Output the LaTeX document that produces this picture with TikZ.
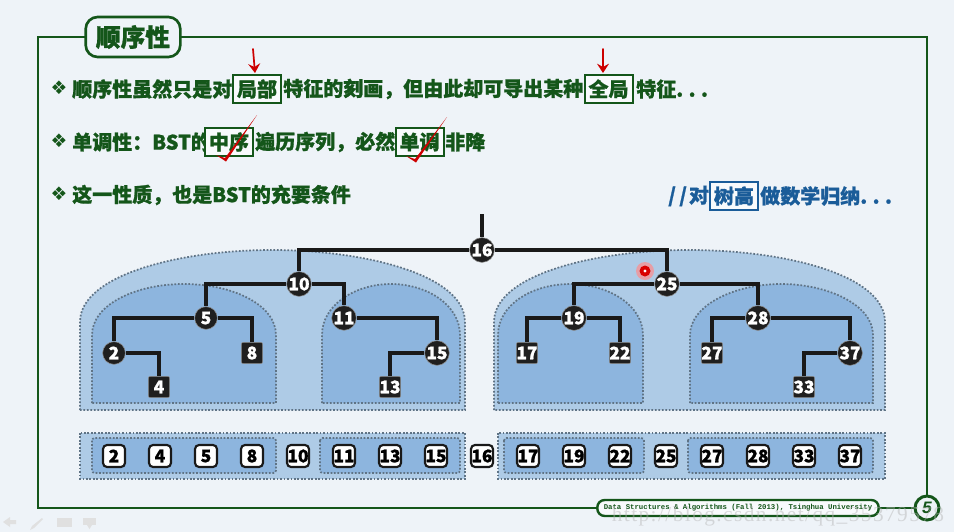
\documentclass[tikz,border=0pt]{standalone}
\usepackage{fontspec}
\setmainfont{Noto Sans CJK SC}[BoldFeatures={FakeBold=1}]
\newfontfamily\symfont{DejaVu Sans}
\newfontfamily\footfont{Liberation Mono}
\newfontfamily\markfont{Liberation Serif}[LetterSpace=6.7]
\usepackage{tikz}
\usetikzlibrary{arrows.meta}
\newcommand{\cncomma}{\char"FF0C\relax}
\newcommand{\cncolon}{\char"FF1A\relax}
\definecolor{pagebg}{HTML}{EEF3F8}
\definecolor{framegreen}{HTML}{14561A}
\definecolor{textblue}{HTML}{1A5C99}
\definecolor{domeouter}{HTML}{AECBE6}
\definecolor{domeinner}{HTML}{8DB5DE}
\definecolor{dotgray}{HTML}{5F7385}
\tikzset{
    treenode/.style={circle, fill=black!88, draw=black!45, line width=0.4pt, text=white, font=\bfseries\fontsize{13}{13}\selectfont, inner sep=0pt, minimum size=17pt},
    treeleaf/.style={rectangle, rounded corners=1.5pt, fill=black!88, draw=black!45, line width=0.4pt, text=white, font=\bfseries\fontsize{13}{13}\selectfont, inner sep=0pt, minimum size=16pt},
    seqnode/.style={rectangle, rounded corners=3pt, fill=white, draw=black!90, line width=1.6pt, text=black, font=\bfseries\fontsize{13}{13}\selectfont, inner sep=0pt, minimum size=16.5pt},
    treeline/.style={draw=black!90, line width=2.6pt},
    dome/.style={draw=dotgray, dash pattern=on 1.3pt off 1.3pt, line width=1.3pt},
    linetext/.style={anchor=west, inner sep=0pt, text=framegreen, font=\bfseries\fontsize{15}{15}\selectfont},
    bullet/.style={inner sep=0pt, text=framegreen, font=\symfont\fontsize{14}{14}\selectfont},
    hlbox/.style={draw=framegreen, line width=1.5pt, fill=white!60!pagebg, inner sep=0pt, minimum width=36pt, minimum height=21pt, text=framegreen, font=\bfseries\fontsize{15}{15}\selectfont},
    redmark/.style={draw=red!80!black, line width=1.3pt, line cap=round, line join=round},
    redcheck/.style={fill=red!80!black}
}

\begin{document}
\begin{tikzpicture}[x=0.75pt, y=-0.75pt]
            \fill[pagebg] (0,0) rectangle (954,532);
            \useasboundingbox (0,0) rectangle (954,532);

            % frame
            \draw[framegreen, line width=2.2pt] (38,37) rectangle (927,508);
            \node[draw=framegreen, line width=2pt, fill=pagebg, rounded corners=9pt, minimum width=71pt, minimum height=30pt, inner sep=0pt, text=framegreen, font=\bfseries\fontsize{18.5}{18.5}\selectfont] (title) at (133,37) {顺序性};

            % bullet lines
            \node[bullet] (b1) at (59,88) {❖};
            \node[linetext] (t1a) at (72,89) {顺序性虽然只是对};
            \node[hlbox] (box1) at (257,89) {局部};
            \node[linetext] (t1b) at (283,89) {特征的刻画\cncomma 但由此却可导出某种};
            \node[hlbox] (box2) at (608.5,89) {全局};
            \node[linetext] (t1c) at (636,89) {特征.\kern4pt.\kern4pt.};

            \node[bullet] (b2) at (59,141) {❖};
            \node[linetext] (t2a) at (72,142) {单调性\cncolon BST的};
            \node[hlbox] (box3) at (229,142) {中序};
            \node[linetext] (t2b) at (255,142) {遍历序列\cncomma 必然};
            \node[hlbox] (box4) at (419.5,142) {单调};
            \node[linetext] (t2c) at (445,142) {非降};

            \node[bullet] (b3) at (59,194) {❖};
            \node[linetext] (t3) at (72,195) {这一性质\cncomma 也是BST的充要条件};

            \node[linetext, text=textblue] (t4a) at (668,196) {/\kern2.5pt/\kern1.5pt对};
            \node[hlbox, draw=textblue, text=textblue] (box5) at (734,196) {树高};
            \node[linetext, text=textblue] (t4b) at (760,196) {做数学归纳.\kern4pt.\kern4pt.};

            % red marks
            \coordinate (a1s) at (253,49);
            \coordinate (a1e) at (255,73);
            \coordinate (a2s) at (603,49);
            \coordinate (a2e) at (603,73);
            \draw[redmark, -{Stealth[length=7pt, width=9pt, inset=2.5pt]}] (a1s) -- (a1e);
            \draw[redmark, -{Stealth[length=7pt, width=9pt, inset=2.5pt]}] (a2s) -- (a2e);
            \fill[redcheck] (216,155) -- (225,158) -- (257,115) -- (226,161.5) -- cycle;
            \fill[redcheck] (406,156) -- (415,159) -- (447,117) -- (416,162.5) -- cycle;

            % domes
            \filldraw[dome, fill=domeouter] (80,410) -- (80,322) .. controls (80,275) and (180,250) .. (272,250) .. controls (365,250) and (465,275) .. (465,322) -- (465,410) -- cycle;
            \filldraw[dome, fill=domeouter] (494,410) -- (494,322) .. controls (494,275) and (594,250) .. (689,250) .. controls (785,250) and (885,275) .. (885,322) -- (885,410) -- cycle;
            \filldraw[dome, fill=domeinner] (92,403) -- (92,335) .. controls (92,305) and (135,284) .. (184,284) .. controls (233,284) and (276,305) .. (276,335) -- (276,403) -- cycle;
            \filldraw[dome, fill=domeinner] (322,403) -- (322,335) .. controls (322,305) and (355,284) .. (391,284) .. controls (427,284) and (460,305) .. (460,335) -- (460,403) -- cycle;
            \filldraw[dome, fill=domeinner] (498,403) -- (498,335) .. controls (498,305) and (532,284) .. (570,284) .. controls (608,284) and (643,305) .. (643,335) -- (643,403) -- cycle;
            \filldraw[dome, fill=domeinner] (690,403) -- (690,335) .. controls (690,305) and (735,284) .. (781,284) .. controls (828,284) and (873,305) .. (873,335) -- (873,403) -- cycle;

            % tree
            \node[treenode] (n16) at (482,250) {16};
            \node[treenode] (n10) at (299,284) {10};
            \node[treenode] (n5) at (206,318) {5};
            \node[treenode] (n2) at (114,353) {2};
            \node[treeleaf] (n4) at (159,387) {4};
            \node[treeleaf] (n8) at (252,353) {8};
            \node[treenode] (n11) at (344,318) {11};
            \node[treenode] (n15) at (437,353) {15};
            \node[treeleaf] (n13) at (390,387) {13};
            \node[treenode] (n25) at (667,284) {25};
            \node[treenode] (n19) at (574,318) {19};
            \node[treeleaf] (n17) at (527,353) {17};
            \node[treeleaf] (n22) at (620,353) {22};
            \node[treenode] (n28) at (758,318) {28};
            \node[treeleaf] (n27) at (712,353) {27};
            \node[treenode] (n37) at (850,353) {37};
            \node[treeleaf] (n33) at (804,387) {33};
            \coordinate (stem) at (482,214);

            \draw[treeline] (stem) -- (n16);
            \draw[treeline] (n16) -| (n10);
            \draw[treeline] (n16) -| (n25);
            \draw[treeline] (n10) -| (n5);
            \draw[treeline] (n10) -| (n11);
            \draw[treeline] (n5) -| (n2);
            \draw[treeline] (n5) -| (n8);
            \draw[treeline] (n2) -| (n4);
            \draw[treeline] (n11) -| (n15);
            \draw[treeline] (n15) -| (n13);
            \draw[treeline] (n25) -| (n19);
            \draw[treeline] (n25) -| (n28);
            \draw[treeline] (n19) -| (n17);
            \draw[treeline] (n19) -| (n22);
            \draw[treeline] (n28) -| (n27);
            \draw[treeline] (n28) -| (n37);
            \draw[treeline] (n37) -| (n33);

            % pointer
            \fill[red!45, opacity=0.7] (645,271) circle (9);
            \fill[red!85!black] (645,271) circle (5.5);
            \fill[white] (645,271) circle (1.6);

            % sorted row
            \filldraw[dome, fill=domeouter] (80,433) rectangle (465,479);
            \filldraw[dome, fill=domeouter] (498,433) rectangle (885,479);
            \filldraw[dome, fill=domeinner, rounded corners=2pt] (92,438) rectangle (276,473);
            \filldraw[dome, fill=domeinner, rounded corners=2pt] (320,438) rectangle (460,473);
            \filldraw[dome, fill=domeinner, rounded corners=2pt] (504,438) rectangle (644,473);
            \filldraw[dome, fill=domeinner, rounded corners=2pt] (688,438) rectangle (873,473);

            \node[seqnode] (s2) at (114,456) {2};
            \node[seqnode] (s4) at (160,456) {4};
            \node[seqnode] (s5) at (206,456) {5};
            \node[seqnode] (s8) at (252,456) {8};
            \node[seqnode] (s10) at (298,456) {10};
            \node[seqnode] (s11) at (344,456) {11};
            \node[seqnode] (s13) at (390,456) {13};
            \node[seqnode] (s15) at (436,456) {15};
            \node[seqnode] (s16) at (482,456) {16};
            \node[seqnode] (s17) at (528,456) {17};
            \node[seqnode] (s19) at (574,456) {19};
            \node[seqnode] (s22) at (620,456) {22};
            \node[seqnode] (s25) at (666,456) {25};
            \node[seqnode] (s27) at (712,456) {27};
            \node[seqnode] (s28) at (758,456) {28};
            \node[seqnode] (s33) at (804,456) {33};
            \node[seqnode] (s37) at (850,456) {37};

            % footer
            \node[draw=framegreen, line width=1.8pt, fill=white!60!pagebg, rounded corners=5.5pt, minimum width=211pt, minimum height=12pt, inner sep=0pt, text=framegreen, font=\footfont\bfseries\fontsize{5.5}{5.5}\selectfont] (footer) at (738,508) {Data Structures \& Algorithms (Fall 2013), Tsinghua University};
            \node[circle, draw=framegreen, line width=2.2pt, fill=pagebg, minimum size=18pt, inner sep=0pt, text=framegreen, font=\footfont\bfseries\itshape\fontsize{13}{13}\selectfont] (pageno) at (927,508) {5};
            \node[inner sep=0pt, text=black!30, opacity=0.45, font=\markfont\fontsize{16}{16}\selectfont] (watermark) at (778,516) {http://blog.csdn.net/qq\_35379578};

            % player icons
            \fill[black!12] (3,522) -- (10,517) -- (10,520) -- (16,520) -- (16,524) -- (10,524) -- (10,527) -- cycle;
            \fill[black!12] (30,530) -- (32,526) -- (42,518) -- (43,519) -- (34,528) -- cycle;
            \fill[black!12] (57,518) rectangle (72,527);
            \fill[black!12] (83,518) rectangle (96,525);
            \fill[black!12] (87,525) -- (92,525) -- (89.5,529) -- cycle;
        \end{tikzpicture}
\end{document}
